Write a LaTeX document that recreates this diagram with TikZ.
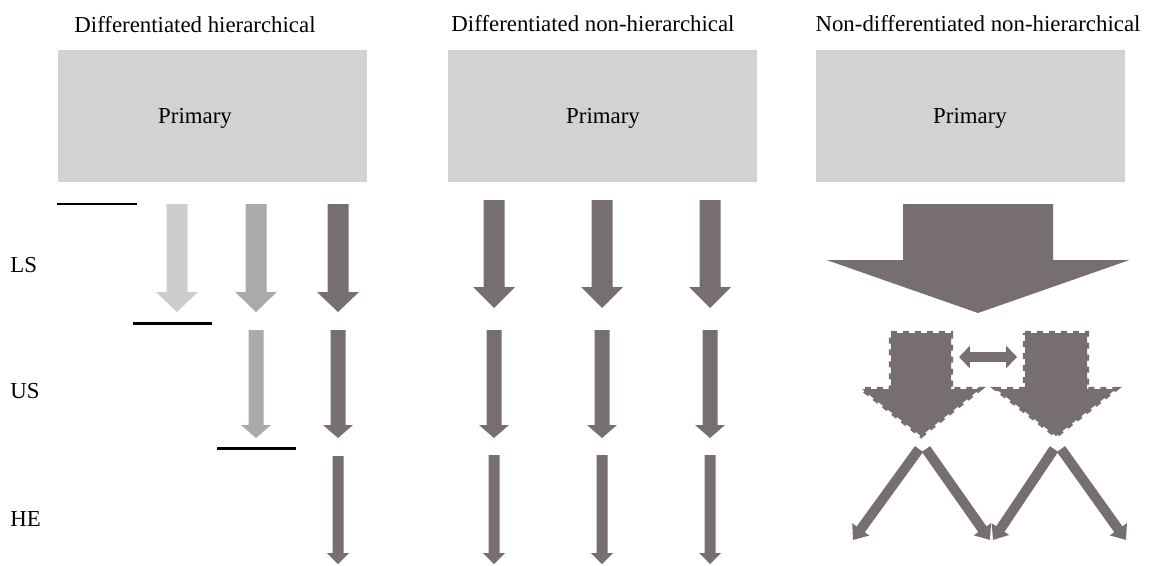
\documentclass[tikz,border=0pt]{standalone}
\usepackage{fontspec}
\setmainfont{Liberation Serif}
\usepackage{tikz}
\usetikzlibrary{arrows.meta, positioning}
\definecolor{BoxGray}{HTML}{D3D1D2}
\definecolor{FlowDark}{HTML}{766E6F}
\definecolor{FlowMid}{HTML}{ABA9AA}
\definecolor{FlowLight}{HTML}{CDCDCD}
% block arrow pointing down: style, centre x, top, head start, tip, half shaft, half head
\newcommand{\blockdown}[7]{%
    \path[#1] (#2-#6,#3) -- (#2+#6,#3) -- (#2+#6,#4) -- (#2+#7,#4) -- (#2,#5)
        -- (#2-#7,#4) -- (#2-#6,#4) -- cycle;}

\begin{document}
\begin{tikzpicture}[x=0.02cm, y=-0.02cm,
    lbl/.style={font=\fontsize{13}{15}\selectfont, inner sep=0pt, anchor=base},
    primbox/.style={fill=BoxGray},
    levelline/.style={black, line width=1.7pt},
    dashedge/.style={fill=FlowDark, draw=FlowDark, line width=2.3pt,
                     dash pattern=on 3.4pt off 3.4pt},
    zigzag/.style={FlowDark, line width=5.7pt, -{Triangle[length=7.5pt, width=11.5pt]}}]
    \useasboundingbox (0,0) rectangle (1152,565);

    % Titles and primary boxes
    \node[lbl] (title1) at (195,32) {Differentiated hierarchical};
    \node[lbl] (title2) at (593,31) {Differentiated non-hierarchical};
    \node[lbl] (title3) at (978,31) {Non-differentiated non-hierarchical};
    \foreach \i/\c in {58/195, 448/603, 816/970} {
        \fill[primbox] (\i,50) rectangle (\i+309,182);
        \node[lbl] (prim\i) at (\c,123) {Primary};
    }

    % Level labels
    \node[lbl, anchor=base west] (ls) at (10,272) {LS};
    \node[lbl, anchor=base west] (us) at (10,398) {US};
    \node[lbl, anchor=base west] (he) at (10,526) {HE};

    % Differentiated hierarchical: exits
    \draw[levelline] (57,204) -- (137,204);
    \draw[levelline] (133,323) -- (212,323);
    \draw[levelline] (217,448) -- (296,448);
    \blockdown{fill=FlowLight}{177}{204}{292}{312}{10.5}{21}
    \blockdown{fill=FlowMid}{256}{204}{292}{312}{10.5}{21}
    \blockdown{fill=FlowDark}{338}{204}{292}{312}{10.5}{21}
    \blockdown{fill=FlowMid}{256}{330}{425}{438}{7.5}{15}
    \blockdown{fill=FlowDark}{338}{330}{425}{438}{7.5}{15}
    \blockdown{fill=FlowDark}{338}{456}{553}{564}{5.5}{11}

    % Differentiated non-hierarchical
    \foreach \x in {494, 602, 710} {
        \blockdown{fill=FlowDark}{\x}{200}{287}{308}{10.5}{21}
        \blockdown{fill=FlowDark}{\x}{330}{425}{438}{7.5}{15}
        \blockdown{fill=FlowDark}{\x}{455}{553}{564}{5.5}{11}
    }

    % Non-differentiated non-hierarchical
    \blockdown{fill=FlowDark}{978}{204}{260}{313}{75}{151.5}
    \blockdown{dashedge}{921}{333}{389}{436}{30}{59}
    \blockdown{dashedge}{1056}{333}{389}{436}{31}{60}
    \draw[FlowDark, line width=5.7pt,
          {Triangle[length=6.2pt, width=12.5pt]}-{Triangle[length=6.2pt, width=12.5pt]}]
        (959,357) -- (1017,357);

    \coordinate (apexA1) at (919,449);
    \coordinate (apexA2) at (926,449);
    \coordinate (apexB1) at (1054,449);
    \coordinate (apexB2) at (1061,449);
    \draw[zigzag] (apexA1) -- (853,540);
    \draw[zigzag] (apexA2) -- (990,540);
    \draw[zigzag] (apexB1) -- (993,540);
    \draw[zigzag] (apexB2) -- (1126,540);
\end{tikzpicture}
\end{document}
